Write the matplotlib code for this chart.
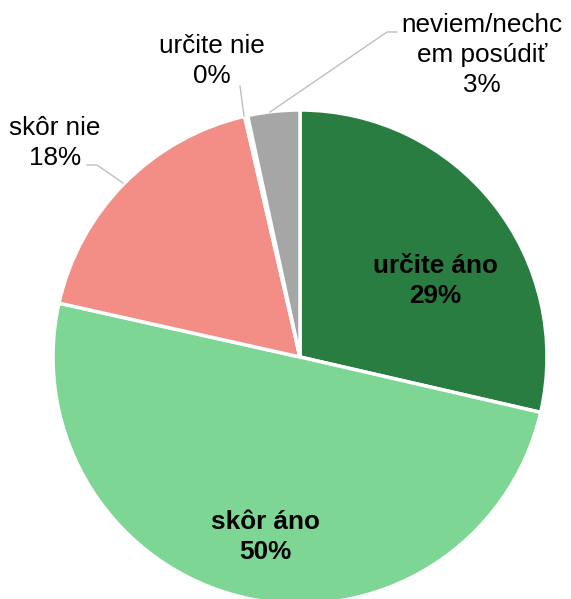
import matplotlib
matplotlib.use("Agg")
import matplotlib.pyplot as plt

categories = ["určite áno", "skôr áno", "skôr nie", "určite nie", "neviem/nechc\nem posúdiť"]
values = [28.6, 49.9, 17.9, 0.2, 3.4]
pct_labels = ["29%", "50%", "18%", "0%", "3%"]
colors = ["#2A7D40", "#7DD694", "#F28E86", "#BFBFBF", "#A6A6A6"]

plt.rcParams['font.family'] = ['Liberation Sans', 'DejaVu Sans']

fig = plt.figure(figsize=(5.71, 5.99), dpi=100)
ax = fig.add_axes([0, 0, 1, 1])
cx, cy, r = 300, 242, 247
wedges, _ = ax.pie(values, colors=colors, startangle=90, counterclock=False,
                   center=(cx, cy), radius=r, frame=True,
                   wedgeprops=dict(edgecolor="white", linewidth=2.5))
ax.set_xlim(0, 571)
ax.set_ylim(0, 599)
ax.set_aspect("equal")
ax.axis("off")

fs = 18.8
ls = 1.32
# inside labels
ax.text(435, 599 - 281, f"{categories[0]}\n{pct_labels[0]}", ha="center", va="center",
        fontsize=fs, fontweight="bold", color="black", linespacing=ls)
ax.text(265, 599 - 537, f"{categories[1]}\n{pct_labels[1]}", ha="center", va="center",
        fontsize=fs, fontweight="bold", color="black", linespacing=ls)
# outside labels
ax.text(55, 599 - 143, f"{categories[2]}\n{pct_labels[2]}", ha="center", va="center",
        fontsize=fs, color="black", linespacing=ls)
ax.text(212, 599 - 61, f"{categories[3]}\n{pct_labels[3]}", ha="center", va="center",
        fontsize=fs, color="black", linespacing=ls)
ax.text(482, 599 - 55, f"{categories[4]}\n{pct_labels[4]}", ha="center", va="center",
        fontsize=fs, color="black", linespacing=ls)

lc = "#BFBFBF"
ax.plot([87, 97, 123], [599 - 165, 599 - 165, 599 - 183], color=lc, lw=1)
ax.plot([240, 244], [599 - 86, 599 - 116], color=lc, lw=1)
ax.plot([270, 387, 397], [599 - 112, 599 - 32, 599 - 32], color=lc, lw=1)

fig.savefig("out.png", dpi=100)
